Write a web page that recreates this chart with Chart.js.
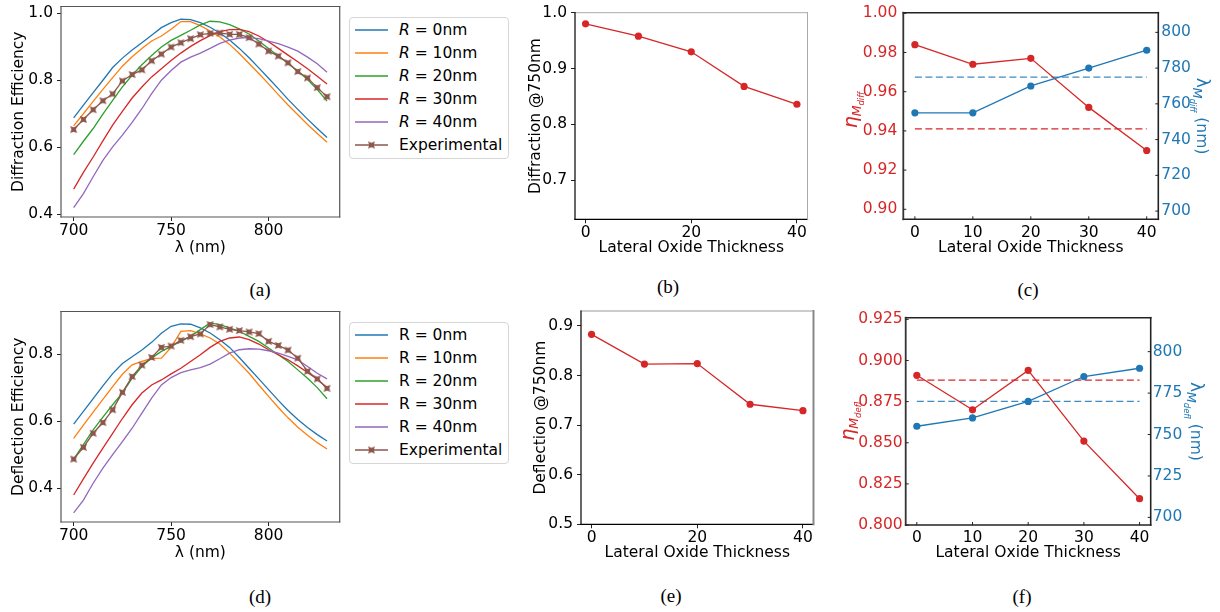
<!DOCTYPE html>
<html>
<head>
<meta charset="utf-8">
<script src="https://cdn.jsdelivr.net/npm/chart.js@4.4.1/dist/chart.umd.min.js"></script>
<style>
body { margin: 0; background: #fff; width: 1220px; height: 612px; position: relative; overflow: hidden; font-family: "DejaVu Sans", sans-serif; }
canvas { position: absolute; }
.cap { position: absolute; font-family: "Liberation Serif", "DejaVu Serif", serif; font-size: 19px; line-height: 22px; transform: translateX(-50%); color: #000; }
.legend { position: absolute; border: 1px solid #d6d6d6; border-radius: 4px; background: #fff; }
.row { position: absolute; font-size: 15.5px; line-height: 20px; color: #000; white-space: nowrap; }
</style>
</head>
<body>
<canvas id="chartA"></canvas>
<canvas id="chartB"></canvas>
<canvas id="chartC"></canvas>
<canvas id="chartD"></canvas>
<canvas id="chartE"></canvas>
<canvas id="chartF"></canvas>
<div class="cap" style="left:260px;top:279px">(a)</div>
<div class="cap" style="left:668px;top:276px">(b)</div>
<div class="cap" style="left:1028px;top:279px">(c)</div>
<div class="cap" style="left:260px;top:586px">(d)</div>
<div class="cap" style="left:671px;top:585px">(e)</div>
<div class="cap" style="left:1022px;top:586px">(f)</div>
<script>
// wavelength sweep (nm)
const WAVELENGTH = [700, 705, 710, 715, 720, 725, 730, 735, 740, 745, 750, 755, 760, 765, 770,
                    775, 780, 785, 790, 795, 800, 805, 810, 815, 820, 825, 830];
const RADIUS = [0, 10, 20, 30, 40];
const WL_TICKS = [700, 750, 800];

// (a) diffraction efficiency, simulated for each R and measured
const diffR0  = [.688, .726, .763, .800, .838, .866, .890, .912, .934, .957, .972, .982, .981, .972, .958, .941, .920, .895, .867, .837, .806, .775, .743, .713, .684, .656, .629];
const diffR10 = [.664, .700, .737, .773, .808, .842, .870, .895, .917, .932, .952, .975, .975, .963, .947, .929, .907, .880, .850, .820, .789, .757, .726, .697, .668, .641, .615];
const diffR20 = [.578, .618, .656, .699, .740, .780, .815, .846, .874, .899, .919, .934, .949, .965, .976, .974, .966, .953, .938, .917, .895, .872, .850, .827, .802, .772, .738];
const diffR30 = [.475, .525, .571, .619, .666, .707, .747, .780, .810, .834, .859, .881, .901, .918, .933, .945, .951, .952, .945, .932, .915, .895, .875, .855, .834, .812, .789];
const diffR40 = [.420, .462, .512, .561, .601, .636, .674, .715, .760, .800, .829, .854, .869, .881, .895, .910, .920, .926, .927, .924, .917, .909, .899, .887, .869, .849, .824];
const diffExp = [.653, .683, .712, .739, .759, .798, .817, .831, .858, .878, .899, .912, .924, .936, .940, .941, .937, .937, .927, .908, .887, .872, .852, .826, .807, .778, .751];
const DIFF_TICKS = [0.4, 0.6, 0.8, 1.0];

// (d) deflection efficiency
const deflR0  = [.591, .629, .667, .705, .742, .772, .792, .812, .835, .862, .883, .890, .889, .878, .863, .843, .820, .790, .758, .726, .694, .662, .632, .605, .581, .560, .541];
const deflR10 = [.549, .588, .627, .665, .703, .740, .768, .778, .787, .788, .820, .868, .870, .860, .848, .830, .803, .773, .743, .708, .674, .641, .610, .582, .558, .536, .517];
const deflR20 = [.487, .530, .574, .612, .649, .684, .728, .763, .788, .808, .823, .838, .853, .873, .893, .888, .878, .868, .853, .838, .818, .798, .778, .753, .728, .700, .667];
const deflR30 = [.380, .428, .475, .520, .564, .608, .649, .684, .708, .723, .741, .758, .778, .798, .820, .838, .848, .851, .843, .830, .813, .798, .783, .765, .745, .725, .700];
const deflR40 = [.327, .365, .415, .460, .500, .539, .579, .624, .669, .708, .730, .745, .753, .760, .770, .786, .803, .813, .816, .815, .810, .803, .793, .783, .763, .743, .726];
const deflExp = [.487, .522, .564, .596, .634, .686, .733, .767, .790, .820, .824, .841, .852, .860, .888, .881, .874, .870, .866, .861, .838, .826, .812, .788, .749, .726, .698];
const DEFL_TICKS = [0.4, 0.6, 0.8];

// (b) (e) efficiency at 750nm vs lateral oxide thickness
const THICKNESS = [0, 10, 20, 30, 40];
const diffAt750 = [.980, .958, .930, .868, .836];
const deflAt750 = [.883, .823, .824, .742, .729];
const THICK_TICKS_BE = [0, 20, 40];
const THICK_TICKS_CF = [0, 10, 20, 30, 40];

// (c) (f) peak efficiency and peak wavelength vs thickness, dashed = measured
const etaDiff = [.984, .974, .977, .952, .930];
const lambdaDiff = [755, 755, 770, 780, 790];
const etaDiffMeasured = 0.941;
const lambdaDiffMeasured = 775;
const etaDefl = [.891, .870, .894, .851, .816];
const lambdaDefl = [755, 760, 770, 785, 790];
const etaDeflMeasured = 0.888;
const lambdaDeflMeasured = 770;

const COLORS = ['#1f77b4', '#ff7f0e', '#2ca02c', '#d62728', '#9467bd'];
const EXP_COLOR = '#8c564b';
const RED = '#d62728';
const BLUE = '#1f77b4';

Chart.defaults.font.family = '"DejaVu Sans", sans-serif';
Chart.defaults.font.size = 15.5;
Chart.defaults.color = '#000';
Chart.defaults.animation = false;

// filled "X" marker, looks like a notched square at this size
const xMarker = (() => {
    const c = document.createElement('canvas');
    c.width = 9; c.height = 9;
    const g = c.getContext('2d');
    g.fillStyle = EXP_COLOR;
    g.beginPath();
    g.moveTo(1, 1); g.lineTo(4.5, 2.2); g.lineTo(8, 1); g.lineTo(6.8, 4.5);
    g.lineTo(8, 8); g.lineTo(4.5, 6.8); g.lineTo(1, 8); g.lineTo(2.2, 4.5);
    g.closePath();
    g.fill();
    return c;
})();

const place = (id, x, y, w, h) => {
    const c = document.getElementById(id);
    c.width = w; c.height = h;
    c.style.left = x + 'px'; c.style.top = y + 'px';
    return c;
};

const fixSize = (size, horizontal) => (scale) => {
    if (horizontal) scale.height = size; else scale.width = size;
    scale.paddingTop = scale.paddingBottom = scale.paddingLeft = scale.paddingRight = 0;
};

const setTicks = (values) => (scale) => {
    scale.ticks = values.map(v => ({ value: v }));
};

const points = (xs, ys) => xs.map((x, i) => ({ x: x, y: ys[i] }));

// axes frame drawn over the data like matplotlib spines, optional inward ticks
const frame = (spec) => ({
    id: 'frame',
    afterDatasetsDraw(chart) {
        const { ctx, chartArea: a, scales } = chart;
        const sides = {
            top: [a.left, a.top, a.right, a.top],
            bottom: [a.left, a.bottom, a.right, a.bottom],
            left: [a.left, a.top, a.left, a.bottom],
            right: [a.right, a.top, a.right, a.bottom]
        };
        ctx.save();
        ctx.lineCap = 'square';
        for (const k in sides) {
            const [color, width] = spec[k];
            const s = sides[k];
            ctx.strokeStyle = color;
            ctx.lineWidth = width;
            ctx.beginPath();
            ctx.moveTo(s[0], s[1]);
            ctx.lineTo(s[2], s[3]);
            ctx.stroke();
        }
        if (spec.inTicks) {
            ctx.lineCap = 'butt';
            ctx.lineWidth = 1;
            ctx.strokeStyle = '#222';
            const len = spec.inTicks;
            ctx.beginPath();
            for (const id in scales) {
                const sc = scales[id];
                sc.ticks.forEach(t => {
                    const p = sc.getPixelForValue(t.value);
                    if (id === 'x') { ctx.moveTo(p, a.bottom); ctx.lineTo(p, a.bottom - len); }
                    else if (sc.position === 'left') { ctx.moveTo(a.left, p); ctx.lineTo(a.left + len, p); }
                    else { ctx.moveTo(a.right, p); ctx.lineTo(a.right - len, p); }
                });
            }
            ctx.stroke();
        }
        ctx.restore();
    }
});

// y labels with subscripts (eta_M_diff etc.)
const mathLabels = (items) => ({
    id: 'mathLabel',
    afterDraw(chart) {
        const { ctx, chartArea: a } = chart;
        const cy = (a.top + a.bottom) / 2;
        items.forEach(item => {
            ctx.save();
            ctx.translate(item.x, cy + item.dy);
            ctx.rotate(item.side === 'left' ? -Math.PI / 2 : Math.PI / 2);
            ctx.fillStyle = item.color;
            ctx.textBaseline = 'alphabetic';
            const fonts = item.parts.map(p => (p.italic ? 'italic ' : '') + p.size + 'px "DejaVu Sans", sans-serif');
            const widths = item.parts.map((p, i) => { ctx.font = fonts[i]; return ctx.measureText(p.t).width; });
            let x = -widths.reduce((s, w) => s + w, 0) / 2;
            item.parts.forEach((p, i) => {
                ctx.font = fonts[i];
                ctx.fillText(p.t, x, 6 + p.dy);
                x += widths[i];
            });
            ctx.restore();
        });
    }
});

const tickGrid = { drawOnChartArea: false, drawTicks: true, tickLength: 4, color: '#222', lineWidth: 1 };
const noGrid = { display: false, drawTicks: false, tickLength: 0 };

const curveSets = (series) => RADIUS.map((r, i) => ({
    data: points(WAVELENGTH, series[i]),
    borderColor: COLORS[i],
    borderWidth: 1.3,
    pointRadius: 0,
    tension: 0,
    order: 5 - i
}));

const spectrumChart = (id, y, series, exp, yMin, yMax, yTicks, yTitle) => new Chart(place(id, 0, y, 345, 260), {
    type: 'line',
    data: {
        datasets: curveSets(series).concat([{
            data: points(WAVELENGTH, exp),
            borderColor: EXP_COLOR,
            borderWidth: 1.3,
            pointStyle: xMarker,
            pointRadius: 4,
            tension: 0,
            order: 0
        }])
    },
    options: {
        responsive: false,
        layout: { padding: { top: 6.5, right: 4, left: 0, bottom: 0 } },
        plugins: { legend: { display: false }, tooltip: { enabled: false } },
        scales: {
            x: {
                type: 'linear', min: 693.5, max: 836.5,
                afterBuildTicks: setTicks(WL_TICKS), afterFit: fixSize(43, true),
                grid: tickGrid, border: { display: false },
                ticks: { padding: 1, callback: v => v },
                title: { display: true, text: 'λ (nm)', padding: { top: 0, bottom: 2.5 } }
            },
            y: {
                type: 'linear', min: yMin, max: yMax,
                afterBuildTicks: setTicks(yTicks), afterFit: fixSize(61, false),
                grid: tickGrid, border: { display: false },
                ticks: { padding: 4, callback: v => v.toFixed(1) },
                title: { display: true, text: yTitle, padding: { top: 10, bottom: 0 } }
            }
        }
    },
    plugins: [frame({ top: ['#555', 1.2], bottom: ['#555', 1.2], left: ['#555', 1.2], right: ['#555', 1.2] })]
});

const thicknessChart = (id, y, values, yMin, yMax, yTicks, yTitle, titlePad, yWidth, top, spines) => new Chart(place(id, 520, y, 300, 260), {
    type: 'line',
    data: {
        datasets: [{
            data: points(THICKNESS, values),
            borderColor: RED, backgroundColor: RED,
            borderWidth: 1.3, pointRadius: 3.6, pointBorderWidth: 0, tension: 0
        }]
    },
    options: {
        responsive: false,
        layout: { padding: { top: top, right: 300 - (yWidth + 232.5), left: 0, bottom: 0 } },
        plugins: { legend: { display: false }, tooltip: { enabled: false } },
        scales: {
            x: {
                type: 'linear', min: -2, max: 42,
                afterBuildTicks: setTicks(THICK_TICKS_BE), afterFit: fixSize(40.7, true),
                grid: tickGrid, border: { display: false },
                ticks: { padding: 0, callback: v => v },
                title: { display: true, text: 'Lateral Oxide Thickness', padding: { top: 0, bottom: 2.5 } }
            },
            y: {
                type: 'linear', min: yMin, max: yMax,
                afterBuildTicks: setTicks(yTicks), afterFit: fixSize(yWidth, false),
                grid: tickGrid, border: { display: false },
                ticks: { padding: 4, callback: v => v.toFixed(1) },
                title: { display: true, text: yTitle, padding: { top: titlePad, bottom: 0 } }
            }
        }
    },
    plugins: [frame(spines)]
});

const peakChart = (id, y, eta, lam, etaRef, lamRef, left, right, etaTicks, lamTicks, etaFmt, pads, widths, labels) => new Chart(place(id, 840, y, 380, 260), {
    type: 'line',
    data: {
        datasets: [{
            data: points(THICKNESS, lam), yAxisID: 'y2',
            borderColor: BLUE, backgroundColor: BLUE, borderWidth: 1.3, pointRadius: 3.6, pointBorderWidth: 0, tension: 0, order: 0
        }, {
            data: points(THICKNESS, eta), yAxisID: 'y',
            borderColor: RED, backgroundColor: RED, borderWidth: 1.3, pointRadius: 3.6, pointBorderWidth: 0, tension: 0, order: 1
        }, {
            data: points([THICKNESS[0], THICKNESS[THICKNESS.length - 1]], [etaRef, etaRef]), yAxisID: 'y',
            borderColor: RED, borderWidth: 1.3, borderDash: [7, 3.5], pointRadius: 0, order: 2
        }, {
            data: points([THICKNESS[0], THICKNESS[THICKNESS.length - 1]], [lamRef, lamRef]), yAxisID: 'y2',
            borderColor: 'rgba(31,119,180,0.85)', borderWidth: 1.3, borderDash: [7, 3.5], pointRadius: 0, order: 3
        }]
    },
    options: {
        responsive: false,
        layout: { padding: { top: 12.7, right: 0, left: 0, bottom: 0 } },
        plugins: { legend: { display: false }, tooltip: { enabled: false } },
        scales: {
            x: {
                type: 'linear', min: -2, max: 42,
                afterBuildTicks: setTicks(THICK_TICKS_CF), afterFit: fixSize(widths[2], true),
                grid: noGrid, border: { display: false },
                ticks: { padding: 4, callback: v => v },
                title: { display: true, text: 'Lateral Oxide Thickness', padding: { top: 0, bottom: 2.5 } }
            },
            y: {
                type: 'linear', position: 'left', min: left[0], max: left[1],
                afterBuildTicks: setTicks(etaTicks), afterFit: fixSize(widths[0], false),
                grid: noGrid, border: { display: false },
                ticks: { color: RED, padding: pads[0], callback: v => v.toFixed(etaFmt) }
            },
            y2: {
                type: 'linear', axis: 'y', position: 'right', min: right[0], max: right[1],
                afterBuildTicks: setTicks(lamTicks), afterFit: fixSize(widths[1], false),
                grid: noGrid, border: { display: false },
                ticks: { color: BLUE, padding: pads[1], callback: v => v }
            }
        }
    },
    plugins: [frame({ top: ['#222', 1.6], bottom: ['#222', 1.6], left: ['#333', 1.8], right: ['#222', 1.6], inTicks: 3 }), mathLabels(labels)]
});

const etaLabel = (sub, x, dy) => ({
    side: 'left', x: x, dy: dy, color: RED, parts: [
        { t: 'η', size: 19, italic: true, dy: 0 },
        { t: 'M', size: 12.5, italic: true, dy: 4 },
        { t: sub, size: 8.5, italic: true, dy: 7 }
    ]
});
const lambdaLabel = (sub, x, dy) => ({
    side: 'right', x: x, dy: dy, color: BLUE, parts: [
        { t: 'λ', size: 17, italic: false, dy: 0 },
        { t: 'M', size: 12.5, italic: true, dy: 4 },
        { t: sub, size: 8.5, italic: true, dy: 7 },
        { t: ' (nm)', size: 15.5, italic: false, dy: 0 }
    ]
});

spectrumChart('chartA', 0, [diffR0, diffR10, diffR20, diffR30, diffR40], diffExp, 0.392, 1.02, DIFF_TICKS, 'Diffraction Efficiency');
spectrumChart('chartD', 305, [deflR0, deflR10, deflR20, deflR30, deflR40], deflExp, 0.2995, 0.927, DEFL_TICKS, 'Deflection Efficiency');

thicknessChart('chartB', 0, diffAt750, 0.63, 1.0, [0.7, 0.8, 0.9, 1.0], 'Diffraction @750nm', 6.4, 55, 12.7,
    { top: ['#aaa', 1], right: ['#aaa', 1], bottom: ['#000', 1.2], left: ['#000', 1.2] });
thicknessChart('chartE', 305, deflAt750, 0.5, 0.93, [0.5, 0.6, 0.7, 0.8, 0.9], 'Deflection @750nm', 11.4, 61, 6,
    { top: ['#999', 1], right: ['#888', 2], bottom: ['#000', 1.2], left: ['#000', 1.2] });

peakChart('chartC', 0, etaDiff, lambdaDiff, etaDiffMeasured, lambdaDiffMeasured,
    [0.8949, 1.0003], [695.4, 811], [0.90, 0.92, 0.94, 0.96, 0.98, 1.00], [700, 720, 740, 760, 780, 800], 2,
    [6, 3], [63.3, 61.7, 40.7], [etaLabel('diff', 11, -6), lambdaLabel('diff', 363, 0)]);
peakChart('chartF', 305, etaDefl, lambdaDefl, etaDeflMeasured, lambdaDeflMeasured,
    [0.8, 0.926], [695.4, 820.5], [0.800, 0.825, 0.850, 0.875, 0.900, 0.925], [700, 725, 750, 775, 800], 3,
    [3, 2], [65.7, 69.3, 40], [etaLabel('defl', 8, 0), lambdaLabel('defl', 357, 0)]);

// legends for (a) and (d)
function drawLegend(top, entries) {
    const box = document.createElement('div');
    box.className = 'legend';
    Object.assign(box.style, { left: '349px', top: top + 'px', width: '158px', height: '140px' });
    entries.forEach((e, i) => {
        const cy = 12.3 + i * 23;
        const s = document.createElement('canvas');
        s.width = 33; s.height = 12;
        s.style.left = '4.5px'; s.style.top = (cy - 6) + 'px';
        const g = s.getContext('2d');
        g.strokeStyle = e.color; g.lineWidth = 1.3;
        g.beginPath(); g.moveTo(0, 6); g.lineTo(33, 6); g.stroke();
        if (e.marker) g.drawImage(xMarker, 12, 1.5);
        box.appendChild(s);
        const t = document.createElement('div');
        t.className = 'row';
        t.style.left = '49px'; t.style.top = (cy - 10) + 'px';
        t.innerHTML = e.label;
        box.appendChild(t);
    });
    document.body.appendChild(box);
}

drawLegend(16.7, RADIUS.map((r, i) => ({ label: '<i>R</i> = ' + r + 'nm', color: COLORS[i] }))
    .concat([{ label: 'Experimental', color: EXP_COLOR, marker: true }]));
drawLegend(321.7, RADIUS.map((r, i) => ({ label: 'R = ' + r + 'nm', color: COLORS[i] }))
    .concat([{ label: 'Experimental', color: EXP_COLOR, marker: true }]));
</script>
</body>
</html>
